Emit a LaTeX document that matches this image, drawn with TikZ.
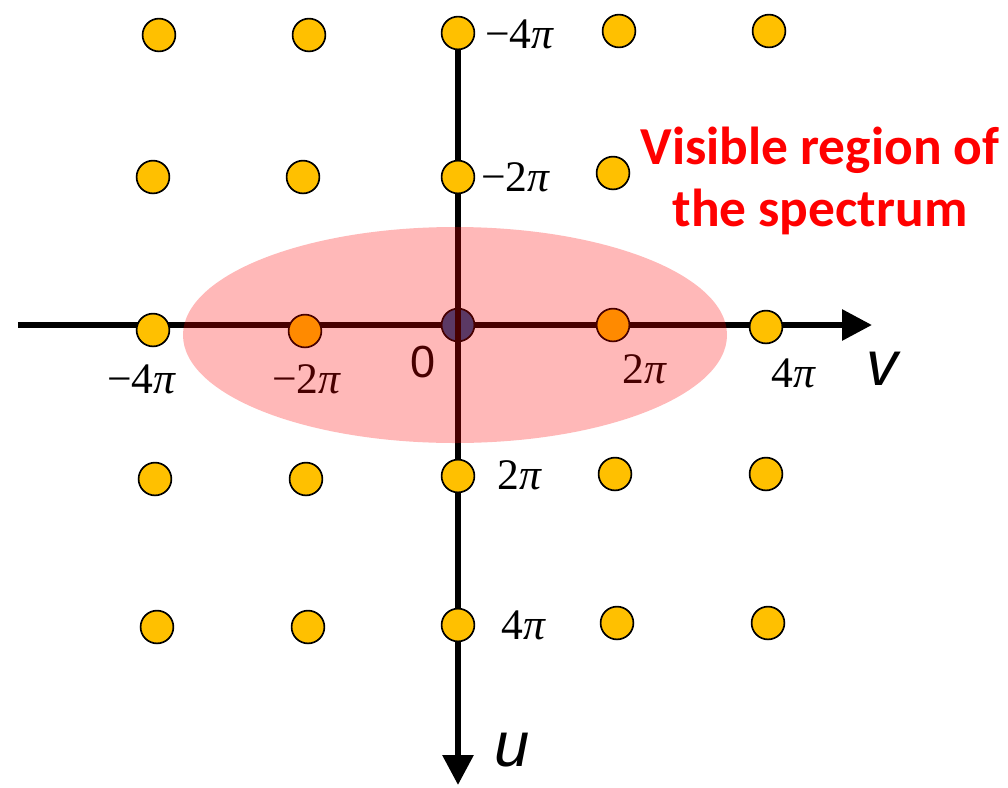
\documentclass[tikz,border=0pt]{standalone}
\usepackage{fontspec}
\setmainfont{Liberation Serif}
\newfontfamily\axisfont{Liberation Sans}
\newfontfamily\notefont{Carlito}
\usetikzlibrary{arrows.meta}
\definecolor{sampleGold}{HTML}{FFC000}
\definecolor{sampleCore}{HTML}{1D508B}
\definecolor{noteRed}{HTML}{FF0000}

\begin{document}
\begin{tikzpicture}[
    sample/.style={circle, draw=black, line width=1.2pt, fill=sampleGold,
      minimum size=0.82cm, inner sep=0pt},
    axis/.style={line width=4.3pt, -{Triangle[length=0.75cm, width=0.75cm]}},
    pilabel/.style={font=\fontsize{31}{36}\selectfont},
  ]
  \useasboundingbox (-11.45,8.125) rectangle (13.75,-11.55);

  % Horizontal axis (v)
  \coordinate (vStart) at (-11.0,0);
  \coordinate (vEnd) at (10.35,0);
  \draw[axis] (vStart) -- (vEnd);

  % Origin sample sits under the vertical axis
  \node[sample, fill=sampleCore] (p33) at (0,0) {};

  % Vertical axis (u), from the top sample down
  \coordinate (uStart) at (0,7.3);
  \coordinate (uEnd) at (0,-11.5);
  \draw[axis] (uStart) -- (uEnd);

  % Grid of spectrum replicas
  \foreach \n/\x/\y in {p11/-7.475/7.25, p12/-3.725/7.25, p13/0/7.3,
      p14/4.025/7.35, p15/7.775/7.35,
      p21/-7.625/3.7, p22/-3.875/3.7, p23/0/3.7, p24/3.875/3.8,
      p31/-7.625/-0.125, p32/-3.825/-0.15, p34/3.875/0, p35/7.7/-0.05,
      p41/-7.575/-3.85, p42/-3.8/-3.85, p43/0/-3.775, p44/3.925/-3.725,
      p45/7.7/-3.725,
      p51/-7.525/-7.55, p52/-3.75/-7.55, p53/0/-7.5, p54/3.975/-7.45,
      p55/7.75/-7.45}
    \node[sample] (\n) at (\x,\y) {};

  % Tick labels on the v axis
  \node[pilabel] (lvm4) at (-7.9,-1.35) {−4\textit{π}};
  \node[pilabel] (lvm2) at (-3.775,-1.35) {−2\textit{π}};
  \node[font=\axisfont\fontsize{32}{38}\selectfont] (lzero) at (-0.875,-0.925) {0};
  \node[pilabel] (lvp2) at (4.675,-1.1) {2\textit{π}};
  \node[pilabel] (lvp4) at (8.4,-1.2) {4\textit{π}};
  \node[font=\axisfont\itshape\fontsize{45}{54}\selectfont] (lv) at (10.6,-1.1) {v};

  % Tick labels on the u axis
  \node[pilabel] (lum4) at (1.55,7.275) {−4\textit{π}};
  \node[pilabel] (lum2) at (1.45,3.7) {−2\textit{π}};
  \node[pilabel] (lup2) at (1.55,-3.75) {2\textit{π}};
  \node[pilabel] (lup4) at (1.65,-7.5) {4\textit{π}};
  \node[font=\axisfont\itshape\fontsize{45}{54}\selectfont] (lu) at (1.35,-10.625) {u};

  % Visible region
  \fill[red, opacity=0.28] (-0.075,-0.25) ellipse [x radius=6.8, y radius=2.7];
  \node[font=\notefont\bfseries\fontsize{38}{44}\selectfont, text=noteRed,
    align=center] (note) at (9.05,3.6) {Visible region of\\the spectrum};
\end{tikzpicture}
\end{document}
